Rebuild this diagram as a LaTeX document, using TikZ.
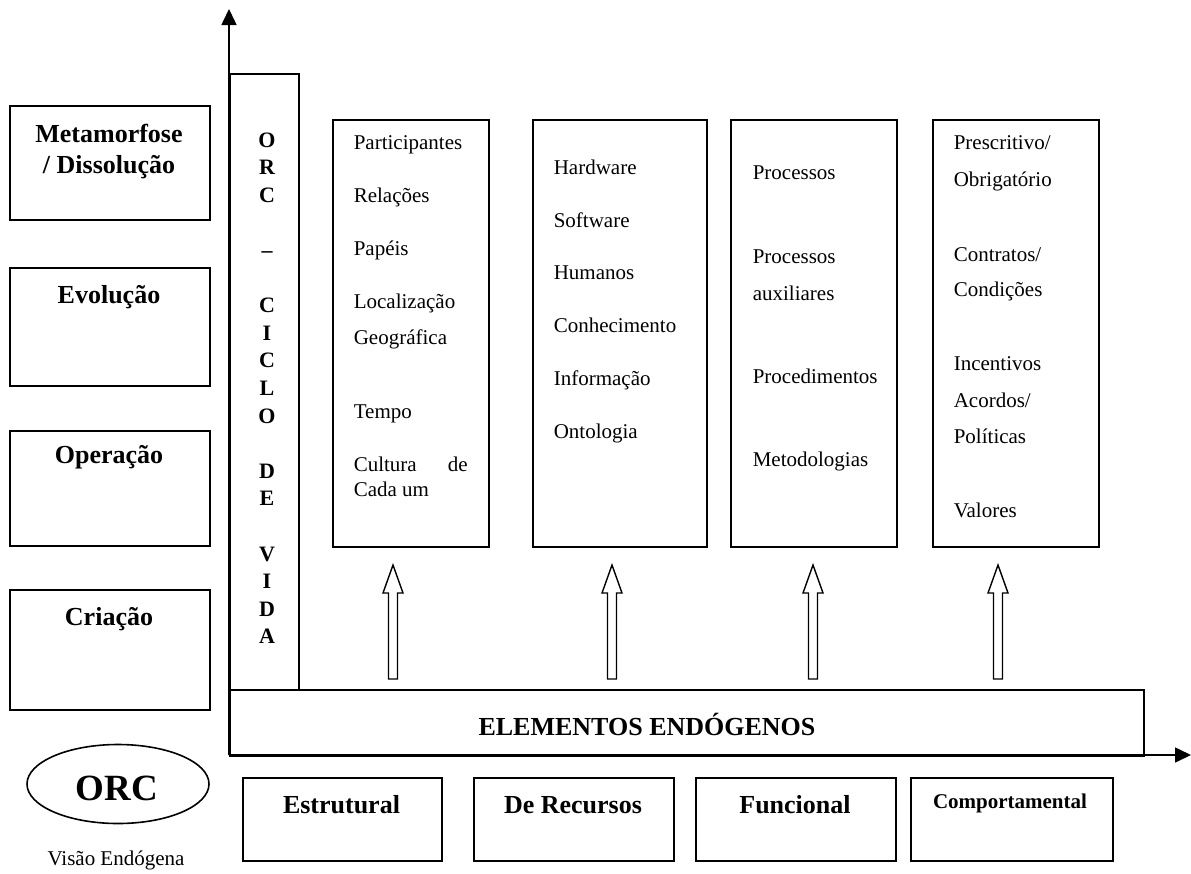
\documentclass[tikz,border=0pt]{standalone}
\usepackage{fontspec}
\setmainfont{Liberation Serif}
\usetikzlibrary{arrows.meta,shapes.geometric}
\begin{document}
\begin{tikzpicture}[x=1pt,y=-1pt,line width=1.6pt,
  box/.style={draw,line width=1.6pt,rectangle,inner sep=0pt,anchor=north west},
  item/.style={anchor=base west,inner sep=0pt,font=\fontsize{21}{25}\selectfont},
  boldlbl/.style={anchor=base,inner sep=0pt,font=\fontsize{26}{31}\selectfont\bfseries},
  collbl/.style={anchor=base,inner sep=0pt,font=\fontsize{22}{27}\selectfont\bfseries},
  axisarrow/.style={line width=1.6pt,-{Triangle[length=16pt,width=15pt]}},
  hollow/.style={draw,line width=1.4pt,fill=white,line join=miter}]
\useasboundingbox (0,0) rectangle (1191,873);

% life-cycle phases
\node[box,minimum width=200,minimum height=114] (meta) at (9,105) {};
\node[box,minimum width=200,minimum height=118] (evol) at (9,267) {};
\node[box,minimum width=200,minimum height=115] (oper) at (9,430) {};
\node[box,minimum width=200,minimum height=120] (cria) at (9,589) {};
\node[boldlbl] (metaA) at (109,142) {Metamorfose};
\node[boldlbl] (metaB) at (109,173) {/ Dissolução};
\node[boldlbl] (evolT) at (109,303) {Evolução};
\node[boldlbl] (operT) at (109,463) {Operação};
\node[boldlbl] (criaT) at (109,625) {Criação};

% vertical column with the life-cycle title
\node[box,minimum width=69,minimum height=616] (ciclo) at (229,73) {};
\foreach \ch/\k in {O/0,R/1,C/2,–/4,C/6,I/7,C/8,L/9,O/10,D/12,E/13,V/15,I/16,D/17,A/18}
  \node[collbl] (c\k) at (267,147+27.6*\k) {\ch};

% axes
\coordinate (origin) at (229,755);
\coordinate (ytop) at (229,9);
\coordinate (xend) at (1191,755);
\draw[axisarrow] (origin) -- (ytop);
\draw[axisarrow] (origin) -- (xend);

% base bar
\node[box,minimum width=914,minimum height=66] (endo) at (229,689) {};
\node[boldlbl] (endoT) at (647,735) {ELEMENTOS ENDÓGENOS};

% element boxes
\node[box,minimum width=156,minimum height=427] (estr) at (332,119) {};
\node[box,minimum width=174,minimum height=427] (recu) at (532,119) {};
\node[box,minimum width=166,minimum height=427] (func) at (730,119) {};
\node[box,minimum width=166,minimum height=427] (comp) at (932,119) {};

\foreach \t/\y [count=\i] in {Participantes/149,Relações/202,Papéis/255,Localização/308,Geográfica/344,Tempo/418}
  \node[item] (e\i) at (353,\y) {\t};
\node[item] (e7) at (353,471) {\makebox[114pt][s]{Cultura de}};
\node[item] (e8) at (353,496) {Cada um};

\foreach \t/\y [count=\i] in {Hardware/174,Software/227,Humanos/279,Conhecimento/332,Informação/385,Ontologia/438}
  \node[item] (r\i) at (553,\y) {\t};

\foreach \t/\y [count=\i] in {Processos/179,Processos/263,auxiliares/300,Procedimentos/383,Metodologias/466}
  \node[item] (f\i) at (752,\y) {\t};

\foreach \t/\y [count=\i] in {{Prescritivo/}/149,Obrigatório/186,{Contratos/}/261,Condições/296,Incentivos/370,{Acordos/}/407,Políticas/443,Valores/517}
  \node[item] (p\i) at (953,\y) {\t};

% hollow upward arrows
\foreach \ax in {393,612,813,998}
  \draw[hollow] (\ax-4.5,679) -- (\ax-4.5,593) -- (\ax-10,593) -- (\ax,565)
    -- (\ax+10,593) -- (\ax+4.5,593) -- (\ax+4.5,679) -- cycle;

% view labels
\node[box,minimum width=199,minimum height=83] (vEstr) at (242,777) {};
\node[box,minimum width=200,minimum height=83] (vRecu) at (473,777) {};
\node[box,minimum width=200,minimum height=83] (vFunc) at (695,777) {};
\node[box,minimum width=202,minimum height=83] (vComp) at (910,777) {};
\node[boldlbl] (vEstrT) at (341.5,813) {Estrutural};
\node[boldlbl] (vRecuT) at (573,813) {De Recursos};
\node[boldlbl] (vFuncT) at (795,813) {Funcional};
\node[anchor=base,inner sep=0pt,font=\fontsize{21}{25}\selectfont\bfseries] (vCompT) at (1010,808) {Comportamental};

% ORC ellipse
\node[draw,ellipse,line width=1.6pt,minimum width=182,minimum height=79,inner sep=0pt] (orc) at (118,784) {};
\node[anchor=base,inner sep=0pt,font=\fontsize{37}{44}\selectfont\bfseries] (orcT) at (117,800) {ORC};
\node[anchor=base,inner sep=0pt,font=\fontsize{21}{25}\selectfont] (vis) at (116,865) {Visão Endógena};
\end{tikzpicture}
\end{document}
